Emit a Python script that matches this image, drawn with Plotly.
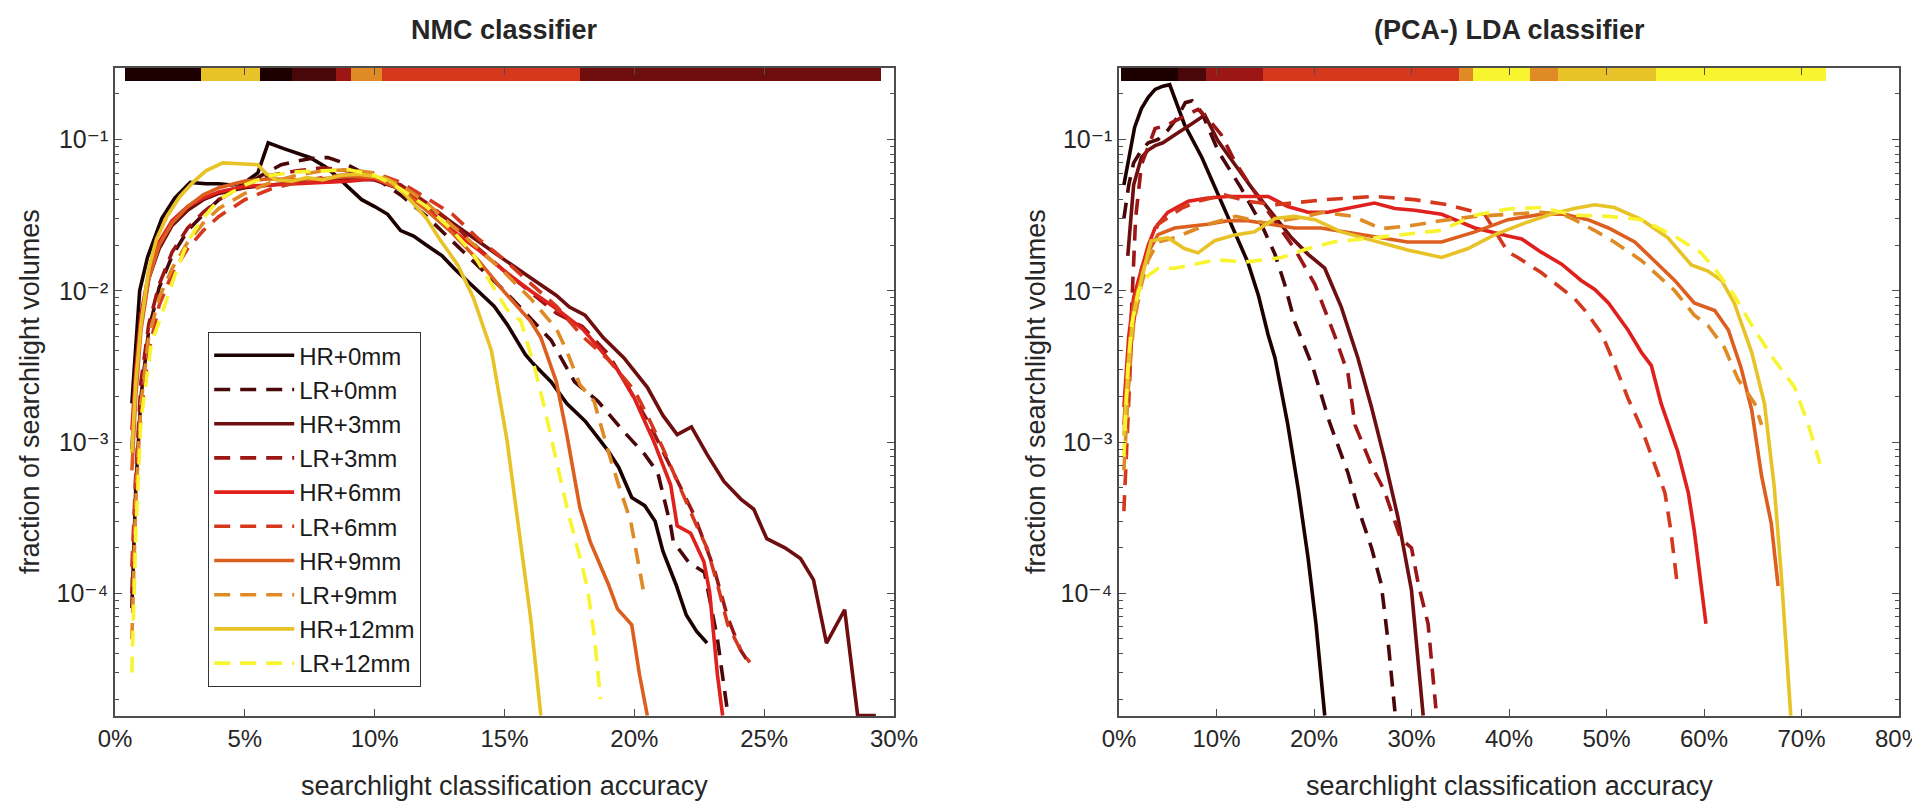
import plotly.graph_objects as go

W, H = 1920, 803

# ---------------- conditions / styling ----------------
conditions = ["HR+0mm", "LR+0mm", "HR+3mm", "LR+3mm", "HR+6mm",
              "LR+6mm", "HR+9mm", "LR+9mm", "HR+12mm", "LR+12mm"]
cond_colors = ["#1c0000", "#4a070a", "#6e0e0e", "#9c1616", "#e0201c",
               "#d6381e", "#dd5f1f", "#e08a25", "#e8c328", "#f8f530"]

# ---------------- NMC classifier (left) ----------------
nmc_hr0_x = [0.65, 0.95, 1.25, 1.8, 2.3, 2.9, 3.5, 4.0, 4.5, 5.0, 5.5, 5.9, 6.5, 7.0, 7.5, 8.1, 8.6, 9.0, 9.5, 10.0,
             10.5, 11.0, 11.5, 12.0, 12.6, 13.1, 13.6, 14.1, 14.6, 15.1, 15.8, 16.1, 16.8, 17.4, 18.1, 18.6, 19.0,
             19.4, 19.9, 20.4, 20.8, 21.1, 21.6, 22.0, 22.4, 22.8]
nmc_hr0_y = [1.8e-3, 0.010, 0.0166, 0.030, 0.041, 0.052, 0.051, 0.051, 0.050, 0.052, 0.060, 0.095, 0.087, 0.081,
             0.076, 0.066, 0.056, 0.048, 0.040, 0.036, 0.032, 0.025, 0.023, 0.020, 0.017, 0.0138, 0.0115, 0.0095,
             0.0079, 0.0060, 0.0038, 0.0033, 0.0025, 0.0018, 0.00138, 0.00107, 0.00087, 0.00068, 0.00043,
             0.00038, 0.00030, 0.00019, 0.000115, 7.2e-5, 5.6e-5, 4.7e-5]

nmc_lr0_x = [0.65, 0.8, 1.0, 1.3, 1.7, 2.2, 2.8, 3.4, 4.0, 4.6, 5.2, 5.8, 6.4, 7.0, 7.6, 8.2, 8.8, 9.4, 10.0,
             11.0, 12.0, 13.0, 14.0, 15.0, 16.0, 16.8, 17.7, 18.6, 19.6, 20.4, 20.9, 21.4, 21.5, 22.1, 22.7,
             23.2, 23.6]
nmc_lr0_y = [8e-5, 5e-4, 2e-3, 5.5e-3, 0.0105, 0.017, 0.025, 0.032, 0.040, 0.047, 0.052, 0.060, 0.068, 0.072,
             0.075, 0.076, 0.070, 0.062, 0.056, 0.043, 0.031, 0.021, 0.0145, 0.010, 0.0066, 0.0047, 0.0025,
             0.00186, 0.00117, 0.00083, 0.00063, 0.00028, 0.00022, 0.00016, 0.000138, 5e-5, 1.6e-5]

nmc_hr3_x = [0.65, 0.8, 1.0, 1.3, 1.7, 2.2, 2.8, 3.4, 4.0, 5.0, 6.0, 7.0, 8.0, 9.0, 10.0, 11.0, 12.0, 13.0,
             14.0, 15.0, 16.0, 17.0, 17.5, 18.1, 18.8, 19.6, 20.5, 21.1, 21.65, 22.2, 22.8, 23.45, 24.1, 24.6,
             25.1, 25.8, 26.4, 26.9, 27.4, 28.1, 28.6, 29.3]
nmc_hr3_y = [9e-4, 2.5e-3, 6e-3, 0.012, 0.019, 0.027, 0.034, 0.040, 0.044, 0.048, 0.050, 0.052, 0.054, 0.055,
             0.054, 0.047, 0.037, 0.028, 0.021, 0.016, 0.0122, 0.0093, 0.0078, 0.0069, 0.0049, 0.0036, 0.0023,
             0.0015, 0.00112, 0.00126, 0.00083, 0.00055, 0.00042, 0.00036, 0.00023, 0.0002, 0.00017, 0.000123,
             4.7e-5, 7.8e-5, 1.56e-5, 1.56e-5]

nmc_lr3_x = [0.65, 0.8, 1.0, 1.3, 1.7, 2.2, 2.8, 3.4, 4.0, 5.0, 6.0, 7.0, 8.0, 9.0, 10.0, 11.0, 12.0, 13.0,
             14.0, 15.0, 16.0, 17.0, 18.0, 19.0, 19.7, 20.6, 21.5, 22.3, 23.06, 23.6, 24.1, 24.4]
nmc_lr3_y = [1e-4, 6e-4, 2.5e-3, 6e-3, 0.011, 0.018, 0.026, 0.033, 0.040, 0.050, 0.058, 0.062, 0.065, 0.062,
             0.056, 0.050, 0.038, 0.028, 0.019, 0.0135, 0.0098, 0.0071, 0.0058, 0.0038, 0.0024, 0.0013,
             0.00063, 0.00033, 0.000148, 6.9e-5, 4.2e-5, 3.5e-5]

nmc_hr6_x = [0.65, 0.8, 1.0, 1.3, 1.7, 2.2, 2.8, 3.4, 4.0, 5.0, 6.0, 7.0, 8.0, 9.0, 10.0, 11.0, 12.0, 13.0,
             14.0, 15.0, 16.0, 17.0, 18.0, 18.3, 19.35, 20.0, 20.76, 21.4, 21.65, 22.17, 22.68, 22.9, 23.2, 23.4]
nmc_hr6_y = [1.2e-3, 3e-3, 7e-3, 0.013, 0.021, 0.029, 0.036, 0.041, 0.045, 0.049, 0.050, 0.051, 0.052, 0.053,
             0.055, 0.047, 0.035, 0.025, 0.0186, 0.0135, 0.010, 0.0076, 0.0056, 0.0049, 0.0030, 0.00195, 0.0010,
             0.00052, 0.00028, 0.00025, 0.000162, 0.000102, 2.9e-5, 1.56e-5]

nmc_lr6_x = [0.65, 0.8, 1.0, 1.3, 1.7, 2.2, 2.8, 3.4, 4.0, 5.0, 6.0, 7.0, 8.0, 9.0, 10.0, 11.0, 12.0, 13.0,
             14.0, 15.0, 16.0, 17.0, 18.0, 19.0, 20.0, 20.5, 21.1, 21.8, 22.4, 22.8, 23.2, 23.6, 24.1, 24.45]
nmc_lr6_y = [1.5e-4, 6e-4, 1.5e-3, 4e-3, 8e-3, 0.013, 0.019, 0.025, 0.031, 0.040, 0.047, 0.052, 0.056, 0.059,
             0.060, 0.052, 0.041, 0.032, 0.022, 0.016, 0.0112, 0.0079, 0.0050, 0.0035, 0.0022, 0.0015, 0.00091,
             0.00048, 0.00028, 0.0002, 0.000115, 6.2e-5, 4.2e-5, 3.5e-5]

nmc_hr9_x = [0.65, 0.8, 1.0, 1.3, 1.7, 2.2, 2.8, 3.4, 4.0, 5.0, 6.0, 7.0, 8.0, 9.0, 10.0, 11.0, 12.0, 13.0,
             14.0, 15.0, 16.0, 16.4, 17.0, 17.4, 17.9, 18.3, 19.0, 19.35, 19.9, 20.2, 20.5]
nmc_hr9_y = [6.5e-4, 2e-3, 5.5e-3, 0.012, 0.020, 0.028, 0.036, 0.043, 0.048, 0.053, 0.055, 0.054, 0.055, 0.057,
             0.056, 0.047, 0.034, 0.024, 0.0158, 0.0098, 0.0063, 0.0049, 0.0025, 0.00112, 0.00037, 0.00022,
             0.000115, 7.9e-5, 6.2e-5, 2.9e-5, 1.56e-5]

nmc_lr9_x = [0.65, 0.8, 1.0, 1.3, 1.7, 2.2, 2.8, 3.4, 4.0, 5.0, 6.0, 7.0, 8.0, 9.0, 10.0, 11.0, 12.0, 13.0,
             14.0, 15.0, 16.0, 17.0, 17.4, 17.9, 18.45, 18.96, 19.35, 19.86, 20.24, 20.4]
nmc_lr9_y = [5e-5, 4e-4, 1.8e-3, 5e-3, 9e-3, 0.014, 0.021, 0.028, 0.035, 0.044, 0.052, 0.058, 0.062, 0.063,
             0.060, 0.050, 0.038, 0.027, 0.019, 0.0132, 0.0089, 0.0056, 0.0040, 0.0024, 0.00186, 0.00091,
             0.00055, 0.00030, 0.000132, 9.3e-5]

nmc_hr12_x = [0.65, 0.8, 1.0, 1.3, 1.6, 2.0, 2.5, 3.0, 3.5, 4.15, 4.8, 5.5, 5.8, 6.2, 6.8, 7.4, 8.0, 8.7, 9.4,
              10.0, 10.5, 10.8, 11.3, 12.0, 12.5, 13.2, 13.8, 14.5, 15.1, 15.5, 16.0, 16.4]
nmc_hr12_y = [8.5e-4, 2.5e-3, 6e-3, 0.014, 0.022, 0.031, 0.042, 0.052, 0.062, 0.070, 0.069, 0.068, 0.060, 0.054,
              0.053, 0.056, 0.054, 0.058, 0.059, 0.057, 0.054, 0.050, 0.041, 0.030, 0.022, 0.0148, 0.0090,
              0.0040, 0.00102, 0.00032, 7e-5, 1.56e-5]

nmc_lr12_x = [0.65, 0.8, 1.0, 1.4, 1.8, 2.3, 2.8, 3.3, 4.0, 5.0, 6.0, 7.0, 8.0, 9.0, 10.0, 11.0, 12.0, 13.0,
              13.8, 14.5, 15.1, 15.63, 16.14, 16.5, 17.04, 17.42, 17.81, 18.19, 18.45, 18.7]
nmc_lr12_y = [3e-5, 2.5e-4, 1.4e-3, 4.5e-3, 7e-3, 0.0126, 0.021, 0.029, 0.040, 0.050, 0.058, 0.061, 0.062, 0.063,
              0.058, 0.047, 0.036, 0.025, 0.0174, 0.011, 0.0075, 0.0063, 0.0032, 0.0018, 0.00068, 0.00036,
              0.0002, 0.00011, 5.4e-5, 2e-5]

# best-condition strip (NMC)
nmc_strip_start = [0.4, 3.3, 5.6, 6.8, 8.5, 9.1, 10.3, 17.9]
nmc_strip_end = [3.3, 5.6, 6.8, 8.5, 9.1, 10.3, 17.9, 29.5]
nmc_strip_cond = ["HR+0mm", "HR+12mm", "HR+0mm", "LR+0mm", "LR+3mm", "LR+9mm", "LR+6mm", "HR+3mm"]

# ---------------- (PCA-) LDA classifier (right) ----------------
lda_hr0_x = [0.5, 1.0, 1.6, 2.3, 3.0, 3.7, 4.5, 5.2, 6.0, 6.7, 8.5, 10.2, 11.9, 13.2, 14.3, 15.3, 16.0, 17.3,
             18.4, 19.4, 20.2, 21.1]
lda_hr0_y = [0.05, 0.075, 0.12, 0.16, 0.19, 0.214, 0.225, 0.23, 0.17, 0.126, 0.076, 0.043, 0.0245, 0.0155,
             0.0093, 0.0051, 0.0036, 0.00132, 0.00048, 0.00017, 6.3e-5, 1.56e-5]

lda_lr0_x = [0.5, 1.0, 1.5, 2.3, 3.0, 4.0, 5.0, 6.0, 6.8, 7.5, 8.5, 10.2, 12.5, 14.6, 16.0, 17.0, 18.0, 19.9,
             21.6, 23.5, 24.5, 25.9, 26.9, 27.6, 28.3]
lda_lr0_y = [0.03, 0.05, 0.07, 0.085, 0.095, 0.10, 0.115, 0.14, 0.175, 0.18, 0.15, 0.083, 0.048, 0.0275,
             0.0174, 0.011, 0.0063, 0.0031, 0.00135, 0.00062, 0.00037, 0.0002, 0.000115, 4.8e-5, 1.66e-5]

lda_hr3_x = [0.9, 1.5, 2.3, 3.0, 3.7, 4.5, 5.7, 6.5, 7.4, 8.8, 10.15, 11.9, 13.6, 15.3, 17.7, 19.4, 21.1, 22.8,
             24.5, 25.9, 27.2, 28.6, 30.0, 31.2]
lda_hr3_y = [0.017, 0.05, 0.076, 0.085, 0.091, 0.095, 0.107, 0.115, 0.126, 0.145, 0.098, 0.068, 0.048, 0.035,
             0.0224, 0.0174, 0.0141, 0.0078, 0.0036, 0.0017, 0.00079, 0.00032, 0.000105, 1.56e-5]

lda_lr3_x = [0.9, 1.3, 1.7, 2.3, 3.0, 3.7, 5.0, 6.5, 8.1, 9.1, 10.5, 11.9, 13.6, 15.5, 18.0, 20.1, 22.1, 23.5,
             24.2, 25.9, 27.2, 28.9, 30.0, 30.7, 31.7, 32.5]
lda_lr3_y = [0.002, 0.008, 0.03, 0.068, 0.09, 0.118, 0.125, 0.14, 0.158, 0.138, 0.107, 0.071, 0.048, 0.032,
             0.019, 0.011, 0.0051, 0.0028, 0.0013, 0.0007, 0.00048, 0.00023, 0.0002, 0.000115, 6.3e-5, 1.74e-5]

lda_hr6_x = [0.5, 1.0, 1.5, 2.3, 3.0, 3.7, 5.0, 7.1, 9.1, 11.2, 13.2, 15.3, 17.3, 19.4, 21.4, 23.5, 26.2, 28.3,
             30.3, 33.1, 36.5, 39.9, 41.3, 43.3, 45.4, 47.4, 48.8, 50.2, 52.2, 53.6, 54.6, 55.6, 57.3, 58.4,
             59.0, 60.2]
lda_hr6_y = [1.7e-3, 5e-3, 9e-3, 0.014, 0.020, 0.026, 0.033, 0.039, 0.041, 0.042, 0.042, 0.042, 0.036, 0.033,
             0.033, 0.035, 0.038, 0.035, 0.034, 0.032, 0.026, 0.023, 0.022, 0.018, 0.015, 0.0117, 0.0102,
             0.0083, 0.0055, 0.0039, 0.0032, 0.0018, 0.00087, 0.00046, 0.00026, 6.3e-5]

lda_lr6_x = [0.5, 0.9, 1.3, 2.3, 4.0, 6.4, 8.1, 10.8, 13.2, 16.0, 18.0, 21.1, 26.2, 30.3, 33.7, 37.5, 39.9,
             40.9, 43.3, 44.7, 46.7, 47.8, 49.5, 50.8, 52.2, 53.6, 54.9, 56.0, 56.6, 57.2]
lda_lr6_y = [3.5e-4, 1.5e-3, 5e-3, 0.014, 0.0275, 0.035, 0.039, 0.043, 0.039, 0.037, 0.038, 0.040, 0.042,
             0.040, 0.037, 0.032, 0.018, 0.0166, 0.0132, 0.0112, 0.0089, 0.0074, 0.0052, 0.0033, 0.00195,
             0.00123, 0.00072, 0.00046, 0.00026, 0.000123]

lda_hr9_x = [0.5, 1.0, 1.5, 2.3, 3.0, 4.0, 5.7, 9.1, 11.2, 13.2, 15.3, 18.0, 20.7, 24.9, 29.6, 33.1, 36.5, 39.9,
             43.3, 45.7, 48.1, 50.2, 52.9, 54.9, 57.0, 59.0, 61.1, 62.5, 63.8, 64.9, 65.9, 66.9, 67.6]
lda_hr9_y = [1.3e-3, 4e-3, 8e-3, 0.0125, 0.018, 0.0235, 0.026, 0.0275, 0.029, 0.029, 0.0275, 0.026, 0.026,
             0.0235, 0.021, 0.021, 0.0245, 0.0295, 0.032, 0.032, 0.0295, 0.026, 0.021, 0.0158, 0.0117, 0.0083,
             0.0074, 0.0055, 0.0031, 0.00162, 0.0006, 0.00029, 0.000112]

lda_lr9_x = [0.5, 1.0, 1.5, 2.3, 3.0, 4.0, 5.7, 9.1, 12.0, 15.0, 18.0, 21.0, 24.0, 26.9, 30.0, 33.0, 36.5,
             39.9, 43.3, 45.5, 46.7, 48.8, 50.8, 53.6, 54.9, 57.0, 59.0, 60.4, 62.1, 63.5, 65.2, 65.9]
lda_lr9_y = [6.5e-4, 2.5e-3, 6e-3, 0.011, 0.016, 0.021, 0.0224, 0.0275, 0.031, 0.028, 0.030, 0.033, 0.031,
             0.0257, 0.027, 0.029, 0.031, 0.032, 0.033, 0.032, 0.0295, 0.025, 0.021, 0.0158, 0.0132, 0.010,
             0.0069, 0.0059, 0.0042, 0.0026, 0.0018, 0.0013]

lda_hr12_x = [0.5, 1.0, 1.5, 2.3, 3.3, 5.0, 6.7, 8.1, 9.8, 11.9, 13.9, 16.0, 18.0, 20.1, 22.8, 26.2, 29.6,
              33.1, 35.8, 38.5, 41.6, 44.3, 46.7, 48.8, 50.8, 53.6, 56.3, 58.7, 60.4, 61.8, 63.1, 64.9, 66.2,
              67.2, 67.9, 68.9]
lda_hr12_y = [1.1e-3, 3.5e-3, 7e-3, 0.012, 0.0214, 0.0224, 0.019, 0.0178, 0.0214, 0.0234, 0.0245, 0.030,
              0.031, 0.0295, 0.0245, 0.0214, 0.0186, 0.0166, 0.019, 0.0234, 0.028, 0.032, 0.035, 0.037, 0.0355,
              0.0295, 0.0224, 0.0148, 0.0135, 0.0117, 0.0083, 0.0039, 0.0018, 0.00051, 0.00014, 1.56e-5]

lda_lr12_x = [0.5, 0.9, 1.3, 2.0, 3.0, 4.0, 5.7, 7.4, 10.0, 13.0, 16.7, 19.4, 22.0, 26.2, 30.0, 33.1, 36.5,
              39.9, 43.3, 46.7, 50.2, 53.6, 57.0, 59.7, 61.4, 63.1, 65.2, 67.2, 69.3, 70.7, 71.9]
lda_lr12_y = [8e-4, 3e-3, 6e-3, 0.010, 0.0126, 0.014, 0.0141, 0.0148, 0.016, 0.0155, 0.0166, 0.019, 0.021,
              0.0224, 0.024, 0.0251, 0.0316, 0.0347, 0.0355, 0.0316, 0.031, 0.0295, 0.0229, 0.0178, 0.0132,
              0.0093, 0.0055, 0.0035, 0.0023, 0.0013, 0.00072]

# best-condition strip (LDA)
lda_strip_start = [0.2, 6.0, 8.9, 14.8, 34.9, 36.3, 42.2, 45.0, 55.1]
lda_strip_end = [6.0, 8.9, 14.8, 34.9, 36.3, 42.2, 45.0, 55.1, 72.5]
lda_strip_cond = ["HR+0mm", "LR+0mm", "LR+3mm", "LR+6mm", "LR+9mm", "LR+12mm", "LR+9mm", "HR+12mm", "LR+12mm"]

# tick labels
nmc_xticks = [0, 5, 10, 15, 20, 25, 30]
nmc_xticktext = ["0%", "5%", "10%", "15%", "20%", "25%", "30%"]
lda_xticks = [0, 10, 20, 30, 40, 50, 60, 70, 80]
lda_xticktext = ["0%", "10%", "20%", "30%", "40%", "50%", "60%", "70%", "80%"]
y_tickvals = [1e-4, 1e-3, 1e-2, 1e-1]
y_ticktext = ["10\u207b\u2074", "10\u207b\u00b3", "10\u207b\u00b2", "10\u207b\u00b9"]

nmc_series = [(nmc_hr0_x, nmc_hr0_y), (nmc_lr0_x, nmc_lr0_y), (nmc_hr3_x, nmc_hr3_y), (nmc_lr3_x, nmc_lr3_y),
              (nmc_hr6_x, nmc_hr6_y), (nmc_lr6_x, nmc_lr6_y), (nmc_hr9_x, nmc_hr9_y), (nmc_lr9_x, nmc_lr9_y),
              (nmc_hr12_x, nmc_hr12_y), (nmc_lr12_x, nmc_lr12_y)]
lda_series = [(lda_hr0_x, lda_hr0_y), (lda_lr0_x, lda_lr0_y), (lda_hr3_x, lda_hr3_y), (lda_lr3_x, lda_lr3_y),
              (lda_hr6_x, lda_hr6_y), (lda_lr6_x, lda_lr6_y), (lda_hr9_x, lda_hr9_y), (lda_lr9_x, lda_lr9_y),
              (lda_hr12_x, lda_hr12_y), (lda_lr12_x, lda_lr12_y)]

FONT = "Liberation Sans, Arial, Helvetica, DejaVu Sans, sans-serif"
color_of = dict(zip(conditions, cond_colors))
LW = 3.6
DASH = "16px,10px"

fig = go.Figure()

for panel, series, xa, ya in [("nmc", nmc_series, "x", "y"), ("lda", lda_series, "x2", "y2")]:
    for name, col, (xs, ys) in zip(conditions, cond_colors, series):
        fig.add_trace(go.Scatter(
            x=xs, y=ys, mode="lines", name=name,
            line=dict(color=col, width=LW, dash=DASH if name.startswith("LR") else "solid"),
            xaxis=xa, yaxis=ya, showlegend=(panel == "nmc"), legendgroup=name,
            hoverinfo="x+y+name"))

for starts, ends, conds, xa, ya in [(nmc_strip_start, nmc_strip_end, nmc_strip_cond, "x", "y3"),
                                    (lda_strip_start, lda_strip_end, lda_strip_cond, "x2", "y4")]:
    fig.add_trace(go.Bar(
        x=[e - s for s, e in zip(starts, ends)], base=starts, y=[0.99] * len(starts),
        orientation="h", width=0.02, marker=dict(color=[color_of[c] for c in conds], line=dict(width=0)),
        xaxis=xa, yaxis=ya, showlegend=False, hoverinfo="skip"))

ydom = [1 - 708 / H, 1 - 60 / H]
TICKFONT = dict(family=FONT, size=24, color="#262626")
axis_common = dict(showline=True, linecolor="#4d4d4d", linewidth=1.5, mirror="ticks", ticks="inside",
                   ticklen=7, tickwidth=1.3, tickcolor="#4d4d4d", showgrid=False, zeroline=False,
                   tickfont=TICKFONT, automargin=False)
minor_vals = [m * 10.0 ** e for e in range(-5, 0) for m in range(2, 10)]
yaxis_common = dict(axis_common, type="log", range=[-4.81, -0.528], tickmode="array",
                    tickvals=y_tickvals, ticktext=y_ticktext, tickfont=dict(TICKFONT, size=25),
                    minor=dict(tickvals=minor_vals, ticks="inside", ticklen=4, tickcolor="#4d4d4d", showgrid=False))

fig.update_layout(
    width=W, height=H, margin=dict(l=0, r=0, t=0, b=0),
    paper_bgcolor="white", plot_bgcolor="white",
    font=dict(family=FONT, size=24, color="#262626"),
    bargap=0,
    xaxis=dict(axis_common, domain=[107 / W, 886 / W], range=[0, 30], anchor="y",
               tickmode="array", tickvals=nmc_xticks, ticktext=nmc_xticktext),
    yaxis=dict(yaxis_common, domain=ydom, anchor="x"),
    xaxis2=dict(axis_common, domain=[1111 / W, 1891 / W], range=[0, 80], anchor="y2",
                tickmode="array", tickvals=lda_xticks, ticktext=lda_xticktext),
    yaxis2=dict(yaxis_common, domain=ydom, anchor="x2"),
    yaxis3=dict(overlaying="y", range=[0, 1], visible=False, anchor="x"),
    yaxis4=dict(overlaying="y2", range=[0, 1], visible=False, anchor="x2"),
    legend=dict(x=200 / W, y=1 - 324 / H, xanchor="left", yanchor="top", bordercolor="#333333",
                borderwidth=1.2, bgcolor="white", font=dict(family=FONT, size=24, color="#1a1a1a"),
                itemwidth=80, tracegroupgap=0, traceorder="normal"),
    showlegend=True,
)

ann = [
    dict(text="<b>NMC classifier</b>", x=(107 + 886) / 2 / W, y=1 - 22 / H, font=dict(size=27)),
    dict(text="<b>(PCA-) LDA classifier</b>", x=(1111 + 1891) / 2 / W, y=1 - 22 / H, font=dict(size=27)),
    dict(text="searchlight classification accuracy", x=(107 + 886) / 2 / W, y=1 - 778 / H, font=dict(size=27)),
    dict(text="searchlight classification accuracy", x=(1111 + 1891) / 2 / W, y=1 - 778 / H, font=dict(size=27)),
    dict(text="fraction of searchlight volumes", x=22 / W, y=1 - 384 / H, textangle=-90, font=dict(size=27)),
    dict(text="fraction of searchlight volumes", x=1028 / W, y=1 - 384 / H, textangle=-90, font=dict(size=27)),
]
for a in ann:
    a.update(xref="paper", yref="paper", showarrow=False, xanchor="center", yanchor="middle")
    a["font"].update(family=FONT, color="#262626")
fig.update_layout(annotations=ann)

fig.write_html("out.html")
